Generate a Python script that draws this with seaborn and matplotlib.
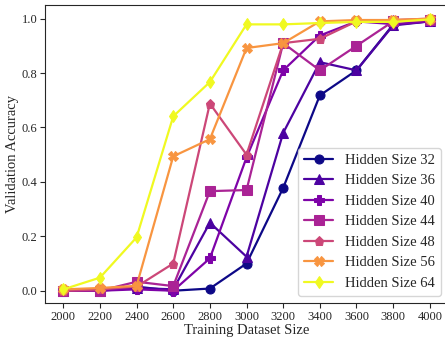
"""
Validation accuracy vs training dataset size
"""
from matplotlib import pyplot as plt
import pandas as pd
import numpy as np
import seaborn as sns

sizes = [2000, 2200, 2400, 2600, 2800, 3000, 3200, 3400, 3600, 3800, 4000]
hidden = [32, 36, 40, 44, 48, 56, 64]

acc_32 = [0.0, 0.0, 0.015, 0.0, 0.008, 0.10, 0.378, 0.718, 0.81, 0.978, 0.99]
acc_36 = [0.0, 0.0, 0.01, 0.005, 0.25, 0.125, 0.58, 0.84, 0.81, 0.975, 0.99]
acc_40 = [0.0, 0.0, 0.005, 0.0, 0.119, 0.49, 0.81, 0.938, 0.99, 0.98, 0.99]
acc_44 = [0.0, 0.0, 0.033, 0.017, 0.366, 0.37, 0.91, 0.81, 0.90, 0.99, 0.995]
acc_48 = [0.0, 0.005, 0.015, 0.10, 0.688, 0.50, 0.91, 0.926, 0.99, 0.995, 1.0]
acc_56 = [0.005, 0.01, 0.018, 0.494, 0.557, 0.892, 0.91, 0.99, 0.995, 0.995, 1.0]
acc_64 = [0.005, 0.048, 0.196, 0.641, 0.767, 0.979, 0.979, 0.984, 0.988, 0.988, 0.997]

all_acc = [acc_32, acc_36, acc_40, acc_44, acc_48, acc_56, acc_64]

rows = []
for h, accs in zip(hidden, all_acc):
    for s, a in zip(sizes, accs):
        rows.append([s, a, f'Hidden Size {h}'])
df = pd.DataFrame(rows, columns=['size', 'acc', 'model'])

sns.set_style('ticks')
plt.rcParams['font.family'] = ['Liberation Serif', 'DejaVu Serif']

# colour by hidden size value on plasma
colors = [plt.cm.plasma((h - 32) / 32) for h in hidden]
markers = ['o', '^', 'P', 's', 'p', 'X', 'd']

fig = plt.figure(figsize=(4.45, 3.37), dpi=100)
ax = fig.add_axes([0.101, 0.101, 0.906, 0.884])
sns.lineplot(data=df, x='size', y='acc', hue='model', style='model',
             palette=colors, markers=markers, dashes=False,
             linewidth=1.6, markersize=6.5, ax=ax)
for line in ax.lines:
    line.set_markeredgecolor(line.get_color())

ax.set_xticks(sizes)
ax.set_xlim(1900, 4100)
ax.set_ylim(-0.045, 1.05)
ax.tick_params(labelsize=9, length=3.5, pad=2)
ax.set_xlabel('Training Dataset Size', fontsize=10.5, labelpad=1)
ax.set_ylabel('Validation Accuracy', fontsize=10.5, labelpad=2)

handles, labels = ax.get_legend_handles_labels()
for hd in handles:
    hd.set_markeredgecolor(hd.get_color())
ax.legend(handles, labels, loc='lower right', fontsize=10.5)

plt.savefig('out.png', dpi=100)
